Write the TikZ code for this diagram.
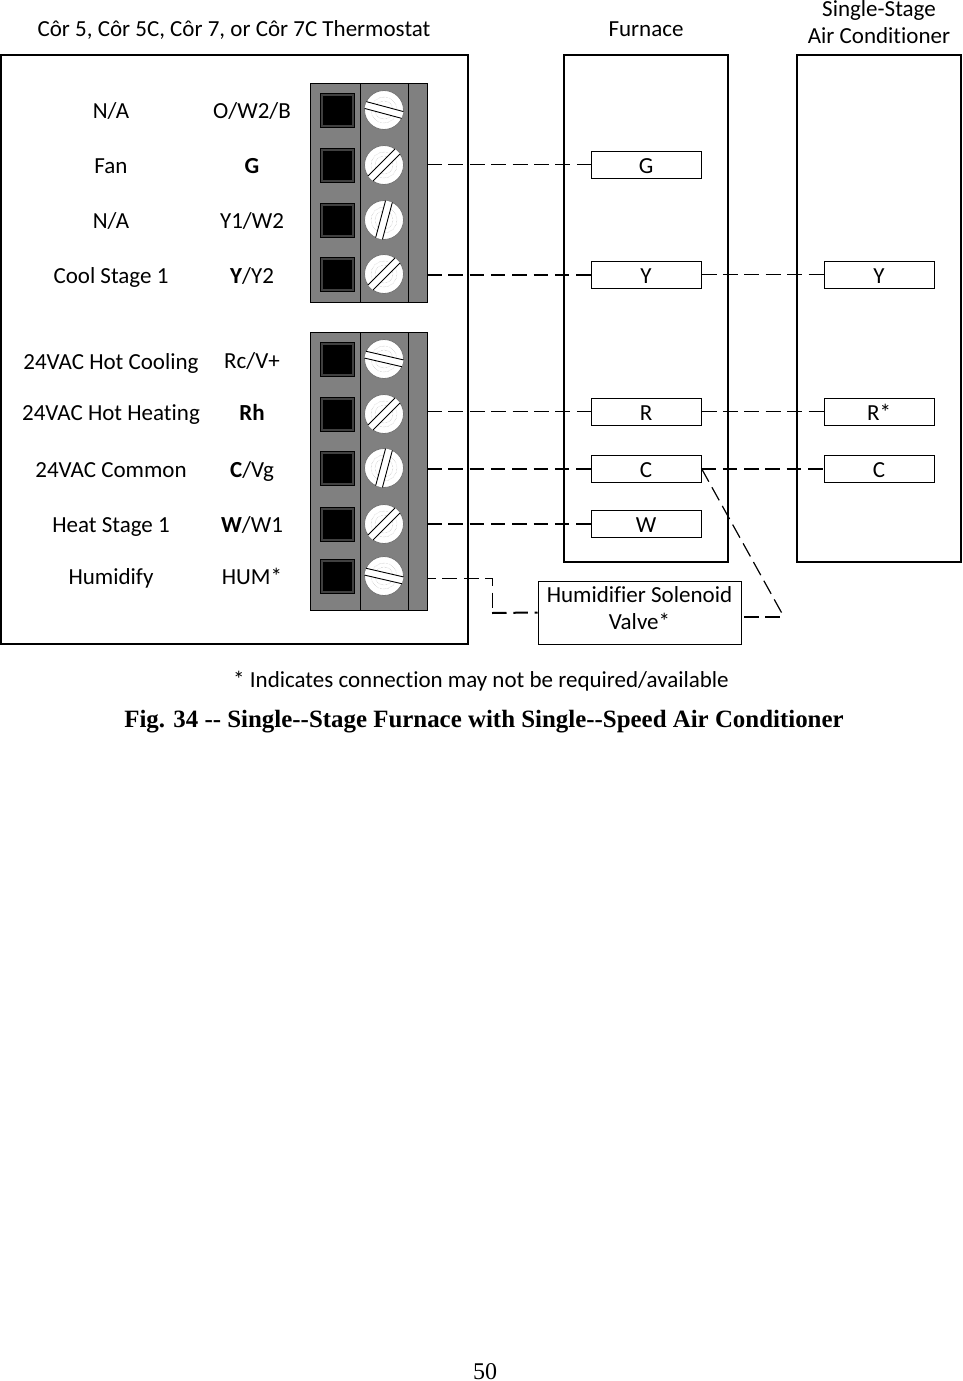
\documentclass[tikz,border=0pt]{standalone}
\usepackage{fontspec}
\setmainfont[Ligatures={NoCommon}]{Carlito}
\newfontfamily\capfont{Liberation Serif}
\tikzset{
  outerbox/.style={line width=2},
  lbl/.style={inner sep=0, font=\fontsize{23}{27}\selectfont, align=center},
  rowlbl/.style={lbl, text height=15, text depth=0},
  pinbox/.style={draw, lbl, line width=1, minimum width=110, minimum height=27, text height=17, text depth=0},
  thinwire/.style={line width=0.9, dash pattern=on 15 off 6.4},
  thickwire/.style={line width=2, dash pattern=on 14.5 off 6.8},
  pics/terminal/.style={code={
    \draw[line width=1, fill=black!75] (-40,-17) rectangle (-6,17);
    \fill[black] (-37.5,-14.5) rectangle (-8.5,14.5);
    \draw[black!55, fill=white, line width=0.8] (24,0) circle (19.5);
    \draw[black!35, densely dotted, line width=0.4] (24,0) circle (13) (24,0) circle (9);
    \begin{scope}[shift={(24,0)}, rotate=#1]
      \fill[white] (-19.2,-3.5) rectangle (19.2,3.5);
      \draw[line width=0.9] (-19.2,-3.5) -- (19.2,-3.5) (-19.2,3.5) -- (19.2,3.5);
    \end{scope}
  }}
}
\begin{document}
\begin{tikzpicture}[x=1pt, y=-1pt]
  \useasboundingbox (0,0) rectangle (962,1381);
  % main boxes
  \draw[outerbox] (1,55) rectangle (468,644);
  \draw[outerbox] (564,55) rectangle (728,562);
  \draw[outerbox] (797,55) rectangle (961,562);
  % terminal blocks
  \draw[line width=1, fill=gray] (310,83) rectangle (427,302);
  \draw[line width=1] (360.5,83) -- (360.5,302);
  \draw[line width=1] (408.5,83) -- (408.5,302);
  \draw[line width=1, fill=gray] (310,332) rectangle (427,610);
  \draw[line width=1] (360.5,332) -- (360.5,610);
  \draw[line width=1] (408.5,332) -- (408.5,610);
  \pic at (360,110) {terminal=-15};
  \pic at (360,165) {terminal=45};
  \pic at (360,220) {terminal=75};
  \pic at (360,274) {terminal=45};
  \pic at (360,359) {terminal=-13};
  \pic at (360,414) {terminal=45};
  \pic at (360,468) {terminal=75};
  \pic at (360,524) {terminal=45};
  \pic at (360,576) {terminal=-13};
  % titles
  \node[rowlbl] (thermtitle) at (234,29) {Côr 5, Côr 5C, Côr 7, or Côr 7C Thermostat};
  \node[rowlbl] (furntitle) at (646,29) {Furnace};
  \node[lbl] (actitle) at (879,22.5) {Single-Stage\\Air Conditioner};
  % left labels
  \node[rowlbl] (nameow) at (111,111) {N/A};
  \node[rowlbl] (namefan) at (111,166) {Fan};
  \node[rowlbl] (nameyw) at (111,221) {N/A};
  \node[rowlbl] (namecool) at (111,276) {Cool Stage 1};
  \node[rowlbl] (namerc) at (111,362) {24VAC Hot Cooling};
  \node[rowlbl] (namerh) at (111,413) {24VAC Hot Heating};
  \node[rowlbl] (namecom) at (111,470) {24VAC Common};
  \node[rowlbl] (nameheat) at (111,525) {Heat Stage 1};
  \node[rowlbl] (namehum) at (111,577) {Humidify};
  % pin labels
  \node[rowlbl] (pinow) at (252,111) {O/W2/B};
  \node[rowlbl] (ping) at (252,166) {\textbf{G}};
  \node[rowlbl] (pinyw) at (252,221) {Y1/W2};
  \node[rowlbl] (piny) at (252,276) {\textbf{Y}/Y2};
  \node[rowlbl] (pinrc) at (252,361) {Rc/V+};
  \node[rowlbl] (pinrh) at (252,413) {\textbf{Rh}};
  \node[rowlbl] (pinc) at (252,470) {\textbf{C}/Vg};
  \node[rowlbl] (pinw) at (252,525) {\textbf{W}/W1};
  \node[rowlbl] (pinhum) at (252,577) {HUM*};
  % furnace pins
  \node[pinbox] (furng) at (646,164.5) {G};
  \node[pinbox] (furny) at (646,274.5) {Y};
  \node[pinbox] (furnr) at (646,411.5) {R};
  \node[pinbox] (furnc) at (646,468.5) {C};
  \node[pinbox] (furnw) at (646,523.5) {W};
  % air conditioner pins
  \node[pinbox] (acy) at (879,274.5) {Y};
  \node[pinbox] (acr) at (879,411.5) {R*};
  \node[pinbox] (acc) at (879,468.5) {C};
  \node[pinbox, minimum width=203, minimum height=63, text height=42, text depth=9] (valve) at (639.5,612.5) {Humidifier Solenoid\\Valve*};
  % wire ends
  \coordinate (termg) at (427,164.5);
  \coordinate (termy) at (427,274.5);
  \coordinate (termr) at (427,411.5);
  \coordinate (termc) at (427,468.5);
  \coordinate (termw) at (427,523.5);
  \coordinate (termhum) at (427,578);
  \coordinate (humbend) at (492,578);
  \coordinate (humdrop) at (492,613);
  \coordinate (valveend) at (744,617);
  \coordinate (comend) at (784,617);
  % wires
  \draw[thinwire] (termg) -- (furng.west);
  \draw[thickwire] (termy) -- (furny.west);
  \draw[thinwire] (furny.east) -- (acy.west);
  \draw[thinwire] (termr) -- (furnr.west);
  \draw[thinwire] (furnr.east) -- (acr.west);
  \draw[thickwire] (termc) -- (furnc.west);
  \draw[thickwire] (furnc.east) -- (acc.west);
  \draw[thickwire] (termw) -- (furnw.west);
  \draw[line width=0.9, dash pattern=on 15 off 6.4, dash phase=6] (termhum) -- (humbend) -- (humdrop);
  \draw[thickwire] (humdrop) -- (valve.west);
  \draw[thinwire, line width=1.2] (furnc.east) -- (comend);
  \draw[thickwire] (valveend) -- (comend);
  % captions
  \node[rowlbl] (note) at (481,680) {* Indicates connection may not be required/available};
  \node[inner sep=0, font=\capfont\bfseries\fontsize{24.9}{30}\selectfont] (figcap) at (484,721.5) {Fig. 34 -- Single--Stage Furnace with Single--Speed Air Conditioner};
  \node[inner sep=0, font=\capfont\fontsize{24}{29}\selectfont] (pagenum) at (485,1372) {50};
\end{tikzpicture}
\end{document}
